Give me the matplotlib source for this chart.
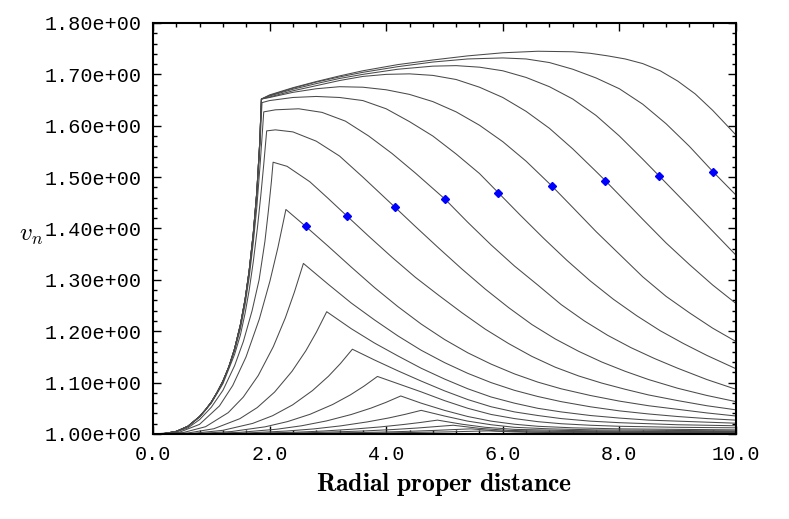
import matplotlib
matplotlib.use("Agg")
import matplotlib.pyplot as plt
from matplotlib.ticker import MultipleLocator, FormatStrFormatter

# ---- data -------------------------------------------------------------
# shared steep rise of the upper curves
env_x = [0.0, 0.2, 0.4, 0.6, 0.8, 0.9, 1.0, 1.1, 1.2, 1.3, 1.4, 1.5, 1.58, 1.65, 1.72, 1.78,
         1.83, 1.86]
env_v = [1.000, 1.001, 1.005, 1.015, 1.034, 1.047, 1.062, 1.081, 1.103, 1.130, 1.166, 1.213,
         1.262, 1.318, 1.390, 1.470, 1.565, 1.652]

# upper curves: tails after the kink at r ~ 1.86
top9_x = [2.0, 2.4, 2.8, 3.2, 3.6, 4.2, 4.8, 5.4, 6.0, 6.6, 7.2, 7.5, 7.8, 8.1, 8.4, 8.7, 9.0,
          9.3, 9.6, 10.0]
top9_v = [1.660, 1.674, 1.686, 1.697, 1.707, 1.719, 1.728, 1.736, 1.742, 1.745, 1.744, 1.741,
          1.736, 1.730, 1.721, 1.707, 1.687, 1.662, 1.630, 1.582]
top8_x = [2.0, 2.4, 2.8, 3.2, 3.6, 4.2, 4.8, 5.4, 6.0, 6.4, 6.8, 7.2, 7.6, 8.0, 8.4, 8.8, 9.2,
          9.61, 10.0]
top8_v = [1.659, 1.673, 1.685, 1.695, 1.704, 1.715, 1.724, 1.730, 1.732, 1.730, 1.723, 1.710,
          1.693, 1.672, 1.642, 1.604, 1.560, 1.510, 1.465]
top7_x = [2.0, 2.4, 2.8, 3.2, 3.6, 4.2, 4.8, 5.2, 5.6, 6.0, 6.4, 6.8, 7.2, 7.6, 8.0, 8.4, 8.685,
          9.2, 9.6, 10.0]
top7_v = [1.658, 1.671, 1.682, 1.692, 1.700, 1.710, 1.716, 1.717, 1.714, 1.707, 1.694, 1.676,
          1.652, 1.620, 1.580, 1.535, 1.502, 1.442, 1.395, 1.348]
top6_x = [2.0, 2.4, 2.8, 3.2, 3.6, 4.0, 4.4, 4.8, 5.2, 5.6, 6.0, 6.4, 6.8, 7.2, 7.6, 7.76, 8.0,
          8.4, 8.8, 9.2, 9.6, 10.0]
top6_v = [1.656, 1.668, 1.678, 1.688, 1.696, 1.700, 1.701, 1.698, 1.690, 1.675, 1.655, 1.628,
          1.595, 1.555, 1.511, 1.493, 1.465, 1.418, 1.372, 1.330, 1.290, 1.254]
top5_x = [2.0, 2.4, 2.8, 3.2, 3.6, 4.0, 4.4, 4.8, 5.2, 5.6, 6.0, 6.4, 6.84, 7.2, 7.6, 8.0, 8.4,
          8.8, 9.2, 9.6, 10.0]
top5_v = [1.655, 1.665, 1.672, 1.676, 1.675, 1.670, 1.661, 1.647, 1.627, 1.601, 1.569, 1.531,
          1.483, 1.441, 1.394, 1.350, 1.306, 1.268, 1.236, 1.206, 1.180]

# curves with their own rise (kink moves out as the peak drops)
k4_x = [0.0, 0.2, 0.4, 0.6, 0.8, 0.9, 1.0, 1.1, 1.2, 1.3, 1.4, 1.5, 1.58, 1.65, 1.72, 1.78,
        1.83, 1.87, 2.0, 2.4, 2.8, 3.2, 3.6, 4.0, 4.4, 4.8, 5.2, 5.6, 5.92, 6.3, 6.7, 7.1, 7.5,
        7.9, 8.3, 8.7, 9.1, 9.5, 10.0]
k4_v = [1.000, 1.001, 1.005, 1.015, 1.034, 1.047, 1.062, 1.081, 1.103, 1.130, 1.166, 1.212,
        1.260, 1.315, 1.385, 1.462, 1.552, 1.645, 1.649, 1.655, 1.657, 1.655, 1.649, 1.633,
        1.608, 1.580, 1.545, 1.507, 1.470, 1.426, 1.381, 1.338, 1.298, 1.262, 1.230, 1.201,
        1.176, 1.153, 1.127]
k3_x = [0.0, 0.2, 0.4, 0.6, 0.8, 1.0, 1.2, 1.4, 1.5, 1.58, 1.65, 1.72, 1.78, 1.84, 1.90, 2.1,
        2.5, 2.9, 3.3, 3.7, 4.1, 4.5, 5.01, 5.4, 5.8, 6.2, 6.6, 7.0, 7.4, 7.8, 8.2, 8.6, 9.0,
        9.5, 10.0]
k3_v = [1.000, 1.001, 1.005, 1.015, 1.034, 1.061, 1.101, 1.162, 1.205, 1.252, 1.305, 1.372,
        1.440, 1.528, 1.627, 1.631, 1.633, 1.626, 1.609, 1.580, 1.546, 1.508, 1.457, 1.412,
        1.368, 1.327, 1.290, 1.252, 1.220, 1.192, 1.168, 1.147, 1.128, 1.106, 1.087]
k2_x = [0.0, 0.2, 0.4, 0.6, 0.8, 1.0, 1.2, 1.4, 1.5, 1.58, 1.65, 1.72, 1.79, 1.85, 1.90, 1.95,
        2.1, 2.4, 2.8, 3.2, 3.6, 4.145, 4.5, 4.9, 5.3, 5.7, 6.1, 6.5, 6.9, 7.3, 7.7, 8.1, 8.5,
        9.0, 9.5, 10.0]
k2_v = [1.000, 1.001, 1.005, 1.015, 1.033, 1.060, 1.098, 1.155, 1.193, 1.235, 1.280, 1.335,
        1.400, 1.465, 1.525, 1.590, 1.592, 1.588, 1.570, 1.541, 1.500, 1.442, 1.404, 1.362,
        1.321, 1.282, 1.246, 1.213, 1.185, 1.161, 1.140, 1.122, 1.106, 1.089, 1.075, 1.063]
k1_x = [0.0, 0.2, 0.4, 0.6, 0.8, 1.0, 1.2, 1.4, 1.55, 1.7, 1.82, 1.92, 1.98, 2.03, 2.06, 2.3,
        2.69, 3.0, 3.33, 3.7, 4.1, 4.5, 4.9, 5.3, 5.7, 6.1, 6.5, 6.9, 7.3, 7.7, 8.1, 8.5, 9.0,
        9.5, 10.0]
k1_v = [1.000, 1.001, 1.004, 1.012, 1.028, 1.052, 1.085, 1.133, 1.180, 1.240, 1.300, 1.375,
        1.435, 1.490, 1.529, 1.521, 1.491, 1.459, 1.424, 1.385, 1.344, 1.305, 1.270, 1.236,
        1.204, 1.176, 1.151, 1.130, 1.113, 1.099, 1.087, 1.076, 1.065, 1.055, 1.047]
k0_x = [0.0, 0.456, 0.798, 1.14, 1.368, 1.596, 1.824, 2.006, 2.143, 2.28, 2.62, 3.0, 3.4, 3.8,
        4.2, 4.6, 5.0, 5.4, 5.8, 6.2, 6.6, 7.0, 7.5, 8.0, 8.5, 9.0, 9.5, 10.0]
k0_v = [1.000, 1.0035, 1.0187, 1.0546, 1.0944, 1.150, 1.2237, 1.2976, 1.363, 1.437, 1.404,
        1.366, 1.325, 1.285, 1.248, 1.214, 1.184, 1.158, 1.136, 1.117, 1.101, 1.088, 1.075,
        1.064, 1.055, 1.048, 1.041, 1.035]

# lower family
p1_x = [0.0, 0.516, 0.903, 1.29, 1.548, 1.806, 2.064, 2.27, 2.425, 2.58, 3.0, 3.4, 3.8, 4.2,
        4.6, 5.0, 5.4, 5.8, 6.2, 6.6, 7.0, 7.5, 8.0, 8.5, 9.0, 9.5, 10.0]
p1_v = [1.000, 1.0027, 1.0142, 1.0415, 1.0717, 1.1139, 1.170, 1.226, 1.276, 1.332, 1.292,
        1.255, 1.222, 1.191, 1.163, 1.139, 1.118, 1.100, 1.085, 1.073, 1.063, 1.053, 1.045,
        1.039, 1.034, 1.030, 1.027]
p2_x = [0.0, 0.596, 1.043, 1.49, 1.788, 2.086, 2.384, 2.622, 2.801, 2.98, 3.4, 3.8, 4.2, 4.6,
        5.0, 5.4, 5.8, 6.2, 6.6, 7.0, 7.5, 8.0, 8.5, 9.0, 9.5, 10.0]
p2_v = [1.000, 1.0019, 1.0102, 1.0298, 1.0514, 1.0816, 1.1219, 1.162, 1.1978, 1.238, 1.205,
        1.177, 1.152, 1.128, 1.107, 1.088, 1.072, 1.060, 1.050, 1.043, 1.036, 1.031, 1.027,
        1.025, 1.023, 1.021]
p3_x = [0.0, 0.684, 1.197, 1.71, 2.052, 2.394, 2.736, 3.01, 3.215, 3.42, 3.8, 4.2, 4.6, 5.0,
        5.4, 5.8, 6.2, 6.6, 7.0, 7.5, 8.0, 8.5, 9.0, 10.0]
p3_v = [1.000, 1.0013, 1.0071, 1.0206, 1.0356, 1.0566, 1.0845, 1.1124, 1.1371, 1.165, 1.144,
        1.123, 1.103, 1.084, 1.067, 1.053, 1.043, 1.036, 1.030, 1.025, 1.022, 1.020, 1.018,
        1.016]
p4_x = [0.0, 0.77, 1.348, 1.925, 2.31, 2.695, 3.08, 3.388, 3.619, 3.85, 4.2, 4.6, 5.0, 5.4,
        5.8, 6.2, 6.6, 7.0, 7.5, 8.0, 9.0, 10.0]
p4_v = [1.000, 1.0009, 1.0048, 1.014, 1.0242, 1.0384, 1.0573, 1.0763, 1.0931, 1.112, 1.098,
        1.082, 1.065, 1.050, 1.038, 1.030, 1.024, 1.020, 1.017, 1.015, 1.013, 1.012]
p5_x = [0.0, 0.85, 1.488, 2.125, 2.55, 2.975, 3.4, 3.74, 3.995, 4.25, 4.6, 5.0, 5.4, 5.8, 6.2,
        6.6, 7.2, 8.0, 9.0, 10.0]
p5_v = [1.000, 1.0006, 1.0032, 1.0093, 1.016, 1.0254, 1.0379, 1.0504, 1.0615, 1.074, 1.060,
        1.046, 1.034, 1.025, 1.019, 1.015, 1.012, 1.010, 1.009, 1.008]
p6_x = [0.0, 0.92, 1.61, 2.3, 2.76, 3.22, 3.68, 4.048, 4.324, 4.60, 5.0, 5.4, 5.8, 6.2, 6.8,
        7.6, 10.0]
p6_v = [1.000, 1.0004, 1.002, 1.0058, 1.0099, 1.0158, 1.0236, 1.0313, 1.0382, 1.046, 1.035,
        1.025, 1.018, 1.013, 1.010, 1.008, 1.006]
p7_x = [0.0, 0.976, 1.708, 2.44, 2.928, 3.416, 3.904, 4.294, 4.587, 4.88, 5.3, 5.7, 6.2, 7.0,
        8.5, 10.0]
p7_v = [1.000, 1.0002, 1.0012, 1.0034, 1.0058, 1.0093, 1.0138, 1.0184, 1.0224, 1.027, 1.019,
        1.013, 1.009, 1.007, 1.005, 1.005]
p8_x = [0.0, 1.03, 2.575, 3.605, 4.12, 4.532, 5.15, 5.6, 6.1, 7.0, 8.5, 10.0]
p8_v = [1.000, 1.0001, 1.0021, 1.0058, 1.0087, 1.0116, 1.017, 1.011, 1.007, 1.005, 1.004, 1.004]
p9_x = [0.0, 2.725, 3.815, 4.36, 4.796, 5.45, 5.9, 6.5, 8.0, 10.0]
p9_v = [1.000, 1.0013, 1.0034, 1.0051, 1.0068, 1.010, 1.006, 1.004, 1.003, 1.003]
p10_x = [0.0, 2.875, 4.025, 5.06, 5.75, 6.2, 7.0, 10.0]
p10_v = [1.000, 1.0008, 1.0021, 1.0041, 1.006, 1.004, 1.0025, 1.002]

# blue markers sitting on nine of the curves
dot_x = [2.62, 3.33, 4.145, 5.01, 5.92, 6.84, 7.76, 8.685, 9.61]
dot_v = [1.404, 1.424, 1.442, 1.457, 1.470, 1.483, 1.493, 1.502, 1.510]

X_TICKS = [0.0, 2.0, 4.0, 6.0, 8.0, 10.0]
Y_TICKS = [1.0, 1.1, 1.2, 1.3, 1.4, 1.5, 1.6, 1.7, 1.8]

plt.rcParams["mathtext.fontset"] = "cm"

fig = plt.figure(figsize=(7.89, 5.19), dpi=100)
ax = fig.add_axes([0.1939, 0.1638, 0.7389, 0.7919])

LINE = dict(color="#4a4a4a", lw=0.75, solid_joinstyle="round")
for tail_x, tail_v in [(top9_x, top9_v), (top8_x, top8_v), (top7_x, top7_v),
                       (top6_x, top6_v), (top5_x, top5_v)]:
    ax.plot(env_x + tail_x, env_v + tail_v, **LINE)
for cx, cv in [(k4_x, k4_v), (k3_x, k3_v), (k2_x, k2_v), (k1_x, k1_v), (k0_x, k0_v),
               (p1_x, p1_v), (p2_x, p2_v), (p3_x, p3_v), (p4_x, p4_v), (p5_x, p5_v),
               (p6_x, p6_v), (p7_x, p7_v), (p8_x, p8_v), (p9_x, p9_v), (p10_x, p10_v)]:
    ax.plot(cx, cv, **LINE)

ax.plot(dot_x, dot_v, ls="none", marker="D", ms=4.2, color="#0000ff", zorder=5)

ax.set_xlim(0, 10)
ax.set_ylim(1.0, 1.8)
ax.set_xticks(X_TICKS)
ax.set_yticks(Y_TICKS)
ax.xaxis.set_minor_locator(MultipleLocator(0.4))
ax.yaxis.set_minor_locator(MultipleLocator(0.02))
ax.xaxis.set_major_formatter(FormatStrFormatter("%.1f"))
ax.yaxis.set_major_formatter(FormatStrFormatter("%.2e"))
ax.tick_params(which="both", direction="in", top=True, right=True, width=1.0)
ax.tick_params(which="major", length=6, pad=8, labelsize=14.5)
ax.tick_params(which="minor", length=3)
for lab in ax.get_xticklabels() + ax.get_yticklabels():
    lab.set_family("Liberation Mono")
for sp in ax.spines.values():
    sp.set_linewidth(1.5)

ax.set_xlabel(r"$\mathbf{Radial\ proper\ distance}$", fontsize=18.5, labelpad=5)
ax.set_ylabel(r"$v_n$", fontsize=18, rotation=0, ha="center", va="center")
ax.yaxis.set_label_coords(-0.209, 0.484)

fig.savefig("out.png", dpi=100)
